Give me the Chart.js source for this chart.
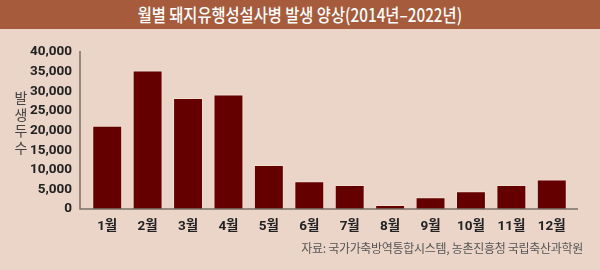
<!DOCTYPE html>
<html>
<head>
<meta charset="utf-8">
<script src="https://cdn.jsdelivr.net/npm/chart.js@4"></script>
<style>
  html, body { margin: 0; padding: 0; }
  body { width: 600px; height: 270px; background: #ead5c8; position: relative; overflow: hidden; font-family: "Noto Sans CJK KR", sans-serif; }
  #title { height: 29px; background: #a65b3c; color: #fff; text-align: center; font-size: 18px; line-height: 29px; font-weight: 500; white-space: nowrap; }
  #title span { display: inline-block; transform: scaleX(0.85); }
  #wrap { position: absolute; left: 0; top: 29px; width: 600px; height: 241px; }
  #ytitle { position: absolute; left: 12px; top: 89px; width: 18px; font-size: 14px; color: #444; text-align: center; }
  #ytitle span { display: block; height: 16.7px; line-height: 16.7px; }
  #source { position: absolute; right: 17px; top: 239px; font-size: 12px; color: #555; letter-spacing: -0.3px; }
</style>
</head>
<body>
<div id="title"><span>월별 돼지유행성설사병 발생 양상(2014년–2022년)</span></div>
<div id="wrap"><canvas id="c" width="600" height="241"></canvas></div>
<div id="ytitle"><span>발</span><span>생</span><span>두</span><span>수</span></div>
<div id="source">자료: 국가가축방역통합시스템, 농촌진흥청 국립축산과학원</div>
<script>
// data
const months = ["1월", "2월", "3월", "4월", "5월", "6월", "7월", "8월", "9월", "10월", "11월", "12월"];
const cases = [21200, 35300, 28300, 29200, 11200, 7100, 6100, 1000, 3000, 4500, 6100, 7500];
const yTicks = [0, 5000, 10000, 15000, 20000, 25000, 30000, 35000, 40000];

const tickFont = { family: "'Liberation Sans Narrow', Roboto, 'Noto Sans CJK KR', sans-serif", size: 13.5, weight: "bold" };

// axis lines that run a little past the bars
const axisLines = {
  id: "axisLines",
  afterDraw(chart) {
    const { ctx, chartArea: a } = chart;
    ctx.save();
    ctx.strokeStyle = "#7a7068";
    ctx.lineWidth = 1.5;
    ctx.beginPath();
    ctx.moveTo(a.left - 7, a.top - 1);
    ctx.lineTo(a.left - 7, a.bottom);
    ctx.lineTo(a.right + 6, a.bottom);
    ctx.stroke();
    ctx.restore();
  }
};

new Chart(document.getElementById("c"), {
  type: "bar",
  data: {
    labels: months,
    datasets: [{
      data: cases,
      backgroundColor: "#640000",
      borderColor: "#f2ddd0",
      borderWidth: { top: 1, left: 1, right: 1, bottom: 0 },
      barPercentage: 0.74,
      categoryPercentage: 1
    }]
  },
  options: {
    responsive: false,
    animation: false,
    layout: { padding: { top: 17, right: 28, left: 0, bottom: 0 } },
    plugins: { legend: { display: false }, tooltip: { enabled: false } },
    scales: {
      x: {
        grid: { display: false, drawTicks: false },
        border: { display: false },
        ticks: { color: "#222", font: tickFont, padding: 10 },
        afterFit(s) { s.height = 61; }
      },
      y: {
        min: 0,
        max: 40000,
        afterBuildTicks(s) { s.ticks = yTicks.map(v => ({ value: v })); },
        grid: { display: false, drawTicks: false },
        border: { display: false },
        ticks: { color: "#222", font: tickFont, padding: 15, autoSkip: false, callback: v => v.toLocaleString("en-US") },
        afterFit(s) { s.width = 87; }
      }
    }
  },
  plugins: [axisLines]
});
</script>
</body>
</html>
